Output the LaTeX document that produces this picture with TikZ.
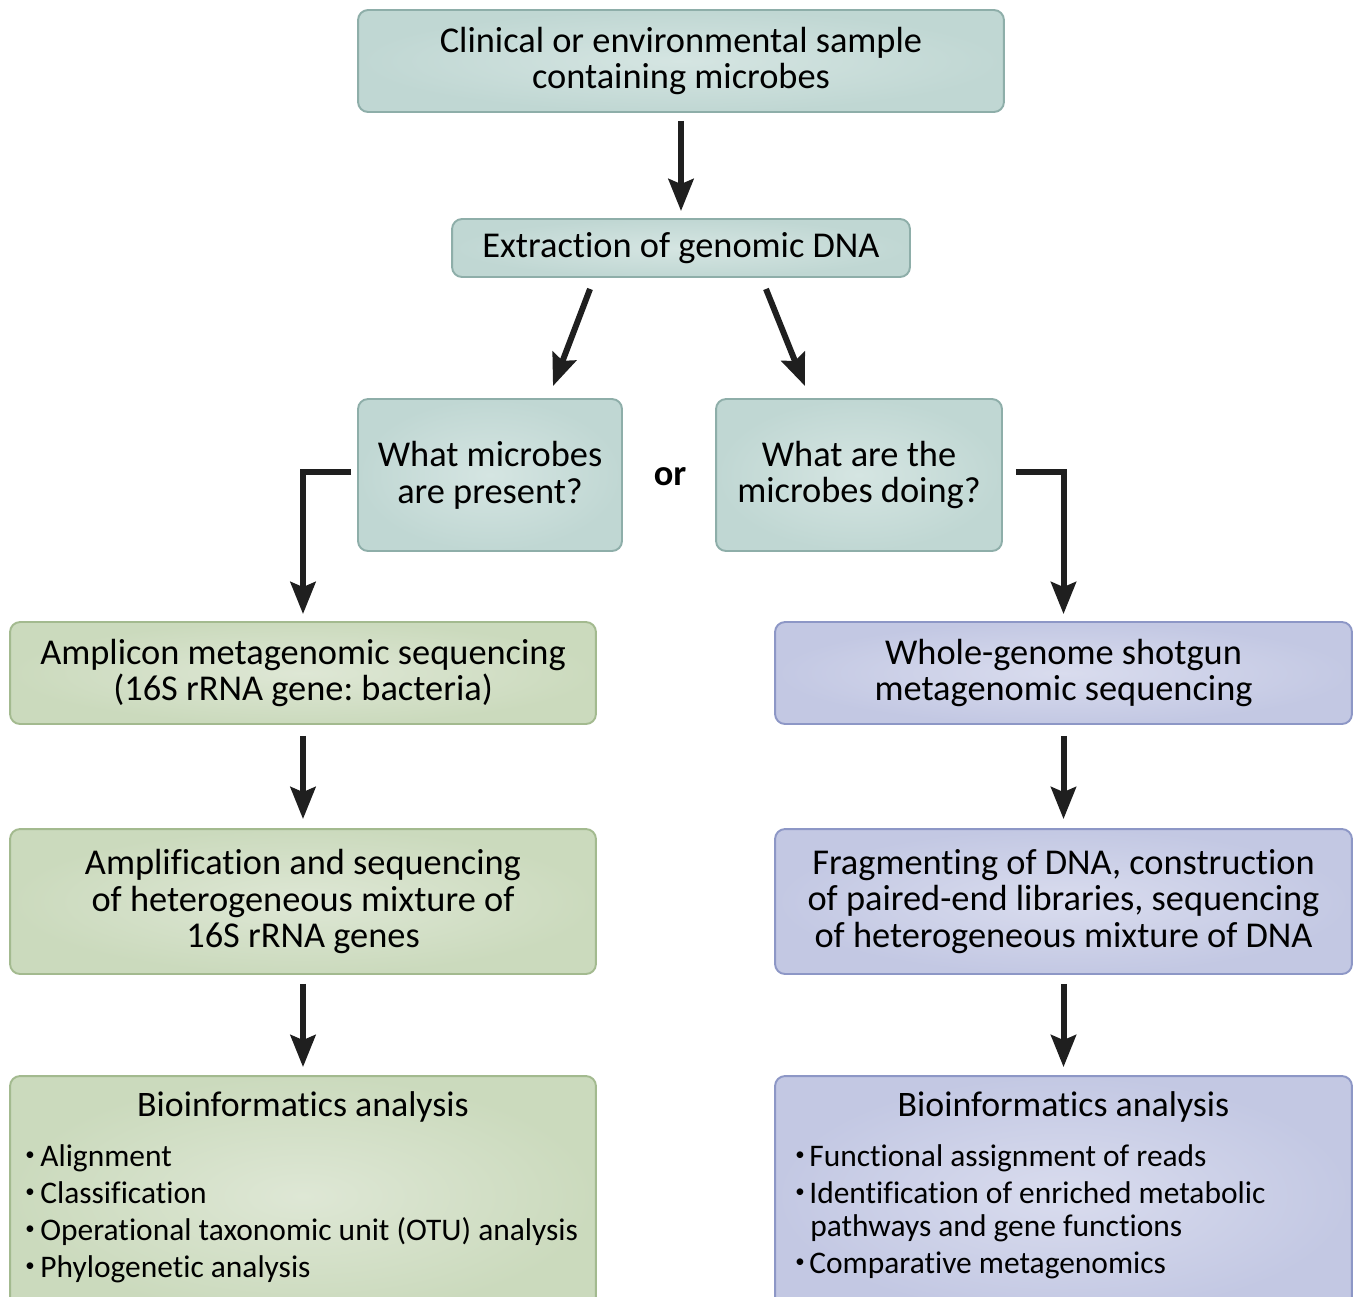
\documentclass[tikz,border=0pt]{standalone}
\usepackage{fontspec}
\setmainfont{Carlito}[Ligatures=NoCommon]
\usetikzlibrary{arrows.meta}
\definecolor{tealin}{HTML}{D5E5E2}
\definecolor{tealout}{HTML}{C0D7D3}
\definecolor{tealdraw}{HTML}{8EAEA9}
\definecolor{grnin}{HTML}{DEE7D5}
\definecolor{grnout}{HTML}{CBDABD}
\definecolor{grndraw}{HTML}{A3BA8F}
\definecolor{bluin}{HTML}{D9DCEE}
\definecolor{bluout}{HTML}{C3C8E3}
\definecolor{bludraw}{HTML}{8D97C6}
\newcommand{\bul}{\raisebox{0.18em}{\scalebox{0.6}{•}}}
\frenchspacing
\begin{document}
\begin{tikzpicture}[x=0.02cm,y=-0.02cm,
  box/.style={rounded corners=0.2cm, line width=1.1pt, inner sep=0pt, align=center,
    font=\fontsize{20.7}{21}\selectfont\frenchspacing},
  tealbox/.style={box, draw=tealdraw, shade, inner color=tealin, outer color=tealout},
  grnbox/.style={box, draw=grndraw, shade, inner color=grnin, outer color=grnout},
  blubox/.style={box, draw=bludraw, shade, inner color=bluin, outer color=bluout},
  txt/.style={inner sep=0pt, font=\fontsize{20.4}{21}\selectfont},
  btxt/.style={inner sep=0pt, anchor=base west, font=\fontsize{17.9}{21}\selectfont},
  arr/.style={line width=3.4pt, color=black!88, line join=miter,
    -{Stealth[length=0.64cm,width=0.5cm,inset=0.1cm]}}]
\useasboundingbox (0,0) rectangle (1358,1296);
\clip (0,0) rectangle (1358,1296);

\node[tealbox, minimum width=12.92cm, minimum height=2.04cm] (top) at (681,61)
  {Clinical or environmental sample\\containing microbes};
\node[tealbox, minimum width=9.16cm, minimum height=1.16cm] (ext) at (681,248)
  {Extraction of genomic DNA};
\node[tealbox, minimum width=5.28cm, minimum height=3.04cm] (q1) at (490,475)
  {What microbes\\are present?};
\node[tealbox, minimum width=5.72cm, minimum height=3.04cm] (q2) at (859,475)
  {What are the\\microbes doing?};
\node[txt, font=\fontsize{20.7}{21}\selectfont\bfseries] (or) at (670,477) {or};

\node[grnbox, minimum width=11.72cm, minimum height=2.04cm] (amp) at (303,673)
  {Amplicon metagenomic sequencing\\(16S rRNA gene: bacteria)};
\node[blubox, minimum width=11.54cm, minimum height=2.04cm] (wgs) at (1063.5,673)
  {Whole-genome shotgun\\metagenomic sequencing};
\node[grnbox, minimum width=11.72cm, minimum height=2.9cm] (ampl) at (303,901.5)
  {Amplification and sequencing\\of heterogeneous mixture of\\16S rRNA genes};
\node[blubox, minimum width=11.54cm, minimum height=2.9cm] (frag) at (1063.5,901.5)
  {Fragmenting of DNA, construction\\of paired-end libraries, sequencing\\of heterogeneous mixture of DNA};
\node[grnbox, minimum width=11.72cm, minimum height=4.8cm] (bioL) at (303,1196) {};
\node[blubox, minimum width=11.54cm, minimum height=4.8cm] (bioR) at (1063.5,1196) {};

% left bio text
\node[txt, anchor=base] (bLt) at (303,1116) {Bioinformatics analysis};
\node[btxt] (bL1b) at (25,1166) {\bul};
\node[btxt] (bL1) at (40,1166) {Alignment};
\node[btxt] (bL2b) at (25,1203) {\bul};
\node[btxt] (bL2) at (40,1203) {Classification};
\node[btxt] (bL3b) at (25,1240) {\bul};
\node[btxt] (bL3) at (40,1240) {Operational taxonomic unit (OTU) analysis};
\node[btxt] (bL4b) at (25,1277) {\bul};
\node[btxt] (bL4) at (40,1277) {Phylogenetic analysis};

% right bio text
\node[txt, anchor=base] (bRt) at (1063.5,1116) {Bioinformatics analysis};
\node[btxt] (bR1b) at (795,1166) {\bul};
\node[btxt] (bR1) at (809,1166) {Functional assignment of reads};
\node[btxt] (bR2b) at (795,1203) {\bul};
\node[btxt] (bR2) at (809,1203) {Identification of enriched metabolic};
\node[btxt] (bR3) at (810,1236) {pathways and gene functions};
\node[btxt] (bR4b) at (795,1273) {\bul};
\node[btxt] (bR4) at (809,1273) {Comparative metagenomics};

% arrows
\draw[arr] ([yshift=-0.16cm]top.south) -- ([yshift=0.14cm]ext.north);
\draw[arr] ([xshift=-1.82cm,yshift=-0.22cm]ext.south) -- ([xshift=1.26cm,yshift=0.24cm]q1.north);
\draw[arr] ([xshift=1.7cm,yshift=-0.22cm]ext.south) -- ([xshift=-1.08cm,yshift=0.24cm]q2.north);
\draw[arr] ([xshift=-0.12cm,yshift=0.06cm]q1.west) -| ([yshift=0.14cm]amp.north);
\draw[arr] ([xshift=0.26cm,yshift=0.06cm]q2.east) -| ([yshift=0.14cm]wgs.north);
\draw[arr] ([yshift=-0.22cm]amp.south) -- ([yshift=0.18cm]ampl.north);
\draw[arr] ([yshift=-0.22cm]wgs.south) -- ([yshift=0.18cm]frag.north);
\draw[arr] ([yshift=-0.18cm]ampl.south) -- ([yshift=0.16cm]bioL.north);
\draw[arr] ([yshift=-0.18cm]frag.south) -- ([yshift=0.16cm]bioR.north);
\end{tikzpicture}
\end{document}
